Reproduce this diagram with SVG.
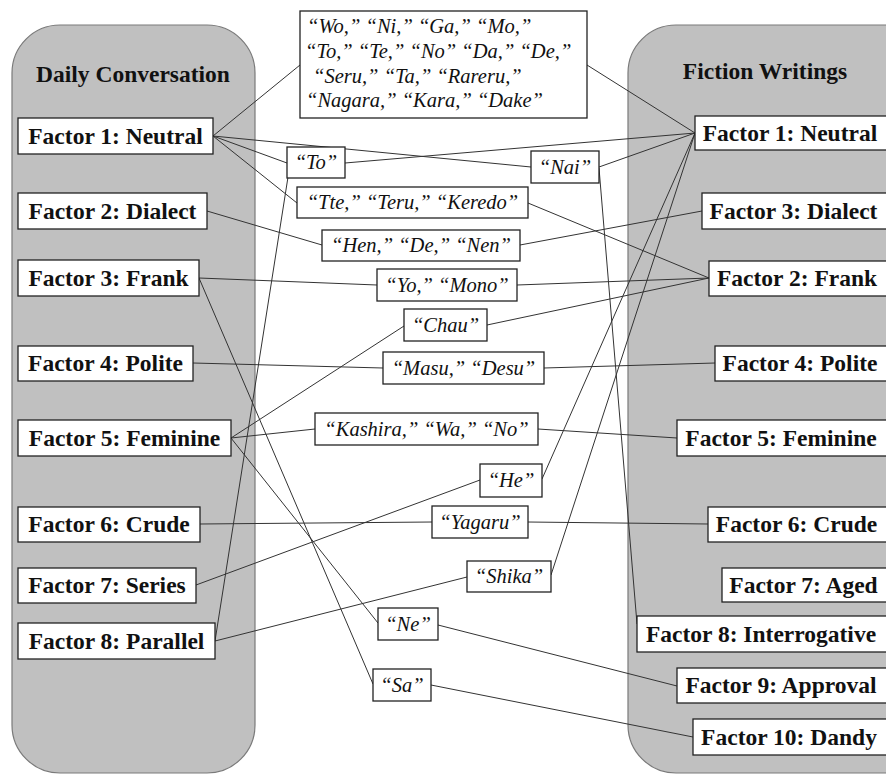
<svg xmlns="http://www.w3.org/2000/svg" width="886" height="774" viewBox="0 0 886 774">
<style>
.panel{fill:#c0c0c0;stroke:#7a7a7a;stroke-width:1.2}
.box{fill:#ffffff;stroke:#222;stroke-width:1.3}
text{font-family:'Liberation Serif','Times New Roman',Times,'DejaVu Serif',serif;fill:#111}
.ft{font-weight:bold;font-size:23.5px;text-anchor:middle}
.tt{font-weight:bold;font-size:23.5px;text-anchor:middle}
.it{font-style:italic;font-size:20.5px;text-anchor:middle}
.itl{font-style:italic;font-size:20.5px}
.c line{stroke:#333;stroke-width:1;fill:none}
</style>
<rect width="886" height="774" fill="#ffffff"/>
<g id="panel-daily">
<rect class="panel" x="12" y="25" width="243" height="748" rx="48" ry="48"/>
<text class="tt" x="133" y="82" font-family="Liberation Serif, serif">Daily Conversation</text>
</g>
<g id="panel-fiction">
<rect class="panel" x="628" y="25" width="320" height="748" rx="48" ry="48"/>
<text class="tt" x="765" y="79">Fiction Writings</text>
</g>
<g id="connectors" class="c">
<line x1="213" y1="136" x2="300" y2="65"/>
<line x1="587" y1="65" x2="695" y2="133"/>
<line x1="213" y1="136" x2="531" y2="167"/>
<line x1="599" y1="167" x2="695" y2="133"/>
<line x1="213" y1="136" x2="287" y2="163"/>
<line x1="345" y1="163" x2="695" y2="133"/>
<line x1="213" y1="136" x2="297" y2="203"/>
<line x1="528" y1="203" x2="709" y2="278"/>
<line x1="207" y1="211" x2="322" y2="245"/>
<line x1="520" y1="245" x2="702" y2="211"/>
<line x1="199" y1="278" x2="377" y2="285"/>
<line x1="517" y1="285" x2="709" y2="278"/>
<line x1="231" y1="438" x2="404" y2="326"/>
<line x1="487" y1="325" x2="709" y2="278"/>
<line x1="193" y1="363" x2="383" y2="368"/>
<line x1="544" y1="368" x2="715" y2="363"/>
<line x1="231" y1="438" x2="315" y2="429"/>
<line x1="538" y1="429" x2="677" y2="438"/>
<line x1="196" y1="585" x2="480" y2="480"/>
<line x1="542" y1="479" x2="695" y2="133"/>
<line x1="200" y1="524" x2="432" y2="522"/>
<line x1="528" y1="522" x2="708" y2="524"/>
<line x1="215" y1="641" x2="467" y2="577"/>
<line x1="551" y1="575" x2="695" y2="133"/>
<line x1="215" y1="641" x2="288" y2="177"/>
<line x1="599" y1="168" x2="637" y2="624"/>
<line x1="199" y1="278" x2="373" y2="684"/>
<line x1="231" y1="438" x2="378" y2="623"/>
<line x1="438" y1="625" x2="677" y2="686"/>
<line x1="431" y1="685" x2="693" y2="737"/>
</g>
<g id="L1"><rect class="box" x="18" y="118" width="195" height="36"/><text class="ft" x="115.5" y="144">Factor 1: Neutral</text></g>
<g id="L2"><rect class="box" x="18" y="193" width="189" height="36"/><text class="ft" x="112.5" y="219">Factor 2: Dialect</text></g>
<g id="L3"><rect class="box" x="18" y="260" width="181" height="36"/><text class="ft" x="108.5" y="286">Factor 3: Frank</text></g>
<g id="L4"><rect class="box" x="18" y="346" width="175" height="35"/><text class="ft" x="105.5" y="371">Factor 4: Polite</text></g>
<g id="L5"><rect class="box" x="18" y="420" width="213" height="36"/><text class="ft" x="124.5" y="446">Factor 5: Feminine</text></g>
<g id="L6"><rect class="box" x="18" y="507" width="182" height="35"/><text class="ft" x="109" y="532">Factor 6: Crude</text></g>
<g id="L7"><rect class="box" x="18" y="568" width="178" height="35"/><text class="ft" x="107" y="593">Factor 7: Series</text></g>
<g id="L8"><rect class="box" x="18" y="623" width="197" height="36"/><text class="ft" x="116.5" y="649">Factor 8: Parallel</text></g>
<g id="R1"><rect class="box" x="695" y="116" width="200" height="34"/><text class="ft" x="790" y="141">Factor 1: Neutral</text></g>
<g id="R3"><rect class="box" x="702" y="193" width="200" height="36"/><text class="ft" x="793.5" y="219">Factor 3: Dialect</text></g>
<g id="R2"><rect class="box" x="709" y="261" width="200" height="35"/><text class="ft" x="797" y="286">Factor 2: Frank</text></g>
<g id="R4"><rect class="box" x="715" y="346" width="200" height="35"/><text class="ft" x="800" y="371">Factor 4: Polite</text></g>
<g id="R5"><rect class="box" x="677" y="420" width="220" height="36"/><text class="ft" x="781" y="446">Factor 5: Feminine</text></g>
<g id="R6"><rect class="box" x="708" y="507" width="200" height="35"/><text class="ft" x="796.5" y="532">Factor 6: Crude</text></g>
<g id="R7"><rect class="box" x="722" y="568" width="200" height="34"/><text class="ft" x="803.5" y="593">Factor 7: Aged</text></g>
<g id="R8"><rect class="box" x="637" y="616" width="260" height="36"/><text class="ft" x="761" y="642">Factor 8: Interrogative</text></g>
<g id="R9"><rect class="box" x="677" y="668" width="220" height="35"/><text class="ft" x="781" y="693">Factor 9: Approval</text></g>
<g id="R10"><rect class="box" x="693" y="719" width="210" height="36"/><text class="ft" x="789" y="745">Factor 10: Dandy</text></g>
<g id="M-common"><rect class="box" x="300" y="11" width="287" height="107"/>
<text class="itl" x="307" y="33">“Wo,” “Ni,” “Ga,” “Mo,”</text>
<text class="itl" x="305" y="58">“To,” “Te,” “No” “Da,” “De,”</text>
<text class="itl" x="313" y="82.5">“Seru,” “Ta,” “Rareru,”</text>
<text class="itl" x="306" y="107">“Nagara,” “Kara,” “Dake”</text></g>
<g id="M-To"><rect class="box" x="287" y="147" width="58" height="31"/><text class="it" x="316" y="169">“To”</text></g>
<g id="M-Nai"><rect class="box" x="531" y="151" width="68" height="32"/><text class="it" x="565" y="174">“Nai”</text></g>
<g id="M-Tte"><rect class="box" x="297" y="187" width="231" height="31"/><text class="it" x="412.5" y="209">“Tte,” “Teru,” “Keredo”</text></g>
<g id="M-Hen"><rect class="box" x="322" y="230" width="198" height="31"/><text class="it" x="421" y="252">“Hen,” “De,” “Nen”</text></g>
<g id="M-Yo"><rect class="box" x="377" y="269" width="140" height="32"/><text class="it" x="447" y="292">“Yo,” “Mono”</text></g>
<g id="M-Chau"><rect class="box" x="404" y="309" width="83" height="32"/><text class="it" x="445.5" y="332">“Chau”</text></g>
<g id="M-Masu"><rect class="box" x="383" y="352" width="161" height="32"/><text class="it" x="463.5" y="375">“Masu,” “Desu”</text></g>
<g id="M-Kashira"><rect class="box" x="315" y="413" width="223" height="32"/><text class="it" x="426.5" y="436">“Kashira,” “Wa,” “No”</text></g>
<g id="M-He"><rect class="box" x="480" y="464" width="62" height="33"/><text class="it" x="511" y="487">“He”</text></g>
<g id="M-Yagaru"><rect class="box" x="432" y="506" width="96" height="32"/><text class="it" x="480" y="529">“Yagaru”</text></g>
<g id="M-Shika"><rect class="box" x="467" y="561" width="84" height="31"/><text class="it" x="509" y="583">“Shika”</text></g>
<g id="M-Ne"><rect class="box" x="378" y="608" width="60" height="32"/><text class="it" x="408" y="631">“Ne”</text></g>
<g id="M-Sa"><rect class="box" x="373" y="669" width="58" height="32"/><text class="it" x="402" y="692">“Sa”</text></g>
</svg>
